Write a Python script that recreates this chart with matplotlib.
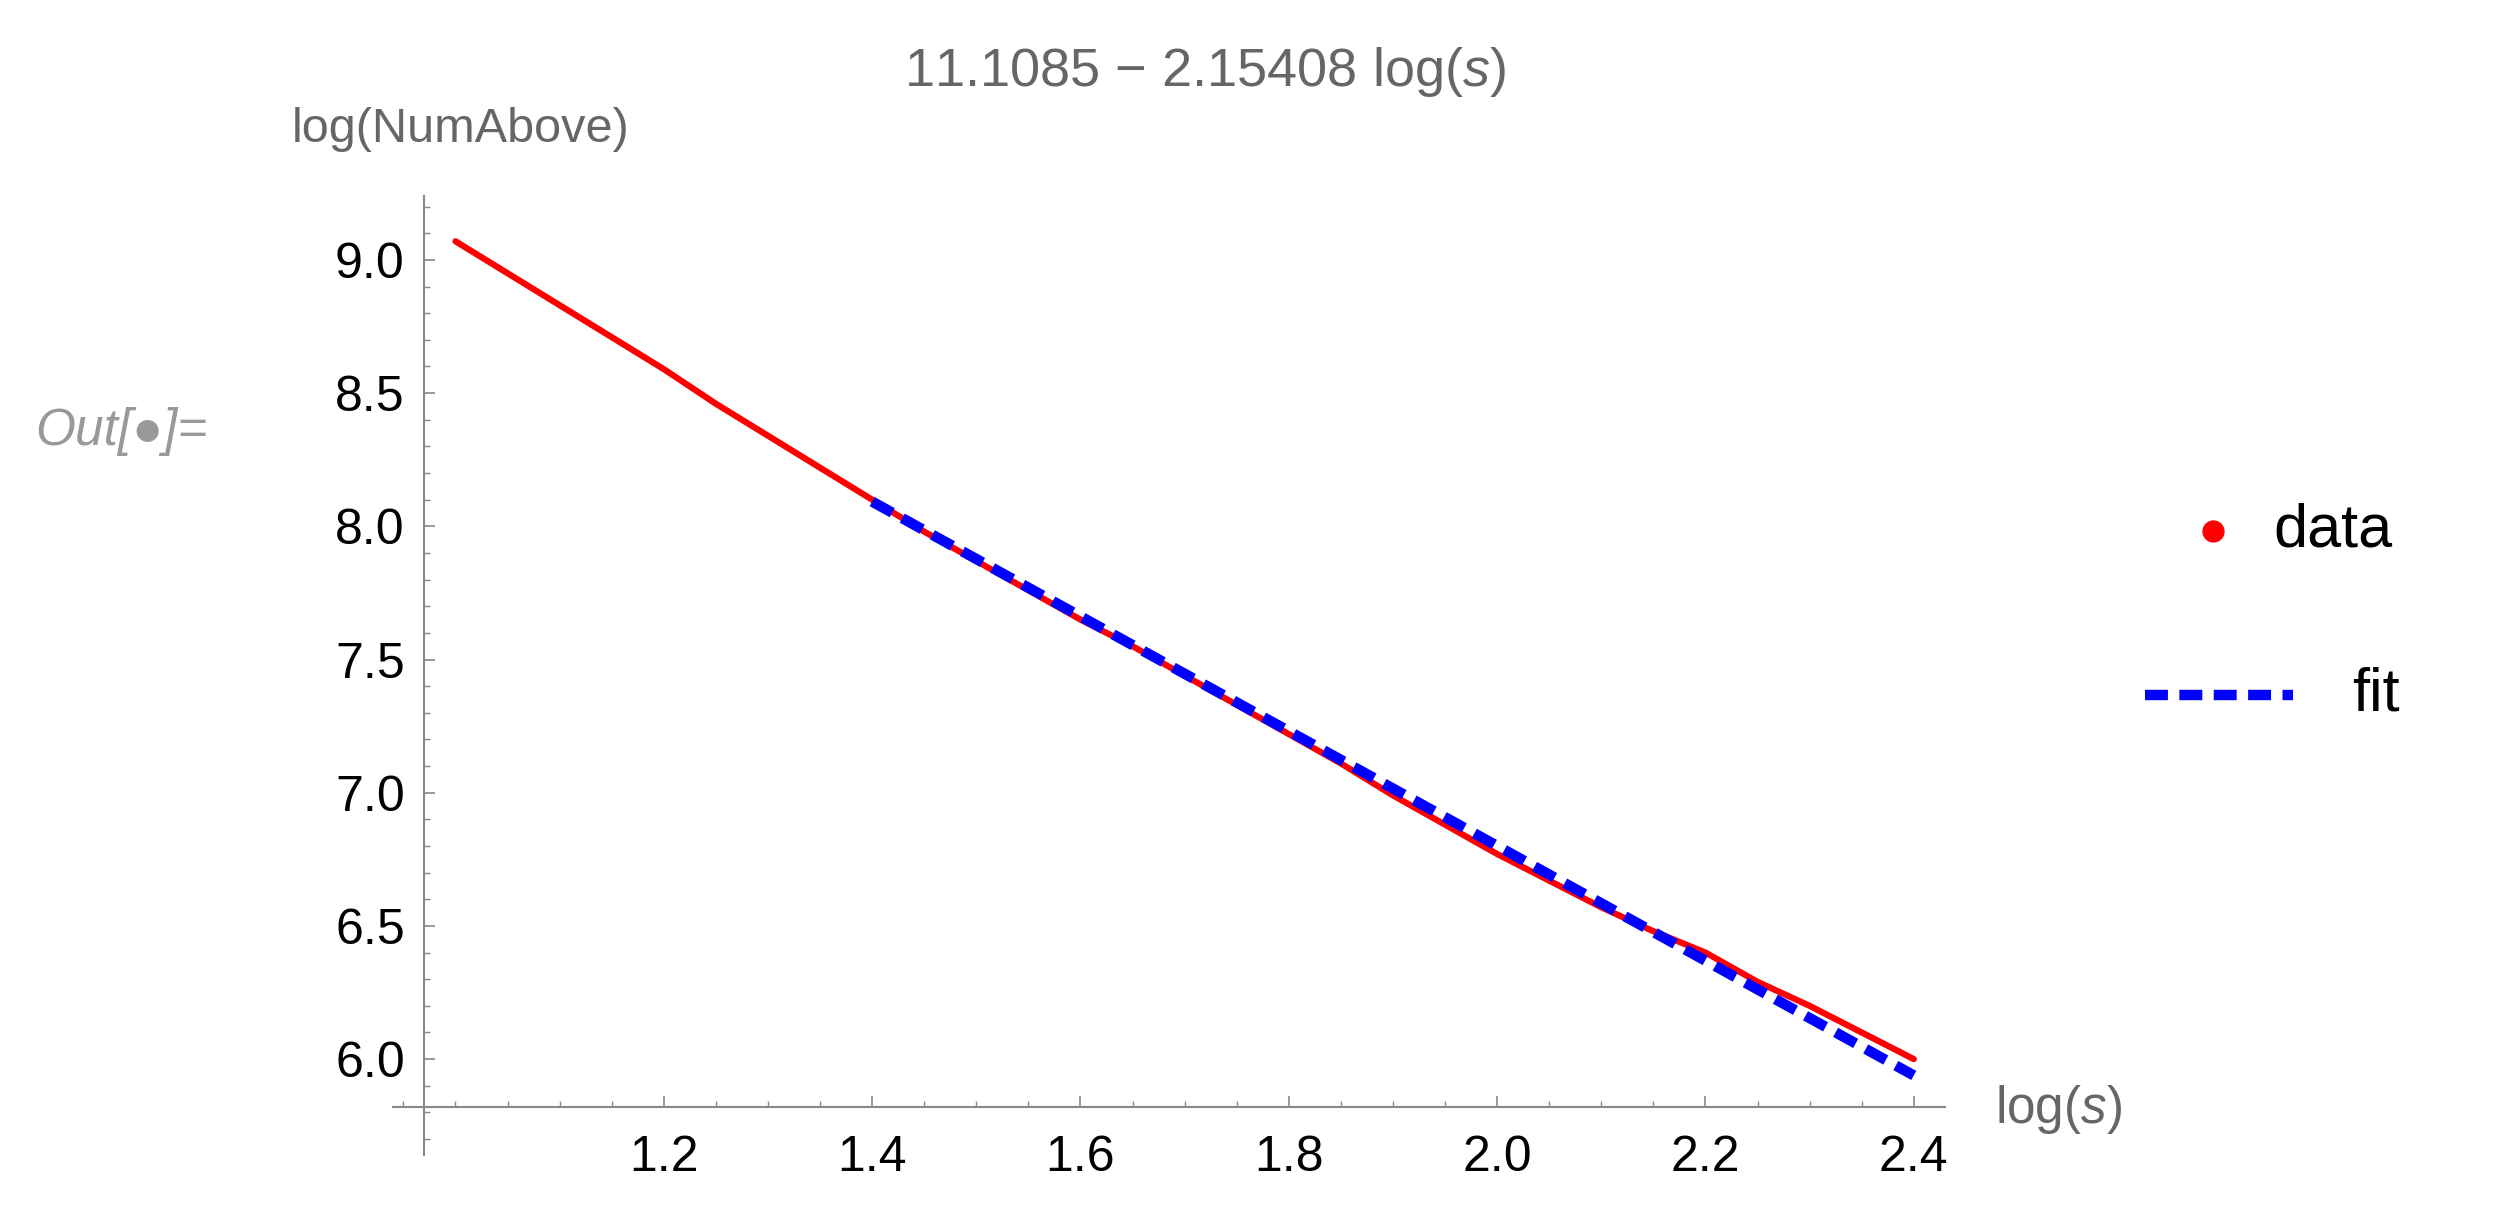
import matplotlib
matplotlib.use("Agg")
import matplotlib.pyplot as plt
import numpy as np
from matplotlib.ticker import MultipleLocator

plt.rcParams['font.family'] = ['Liberation Sans', 'DejaVu Sans']
plt.rcParams['mathtext.fontset'] = 'custom'
plt.rcParams['mathtext.it'] = 'Liberation Sans:italic'
plt.rcParams['mathtext.rm'] = 'Liberation Sans'

data_x = [1.00, 1.05, 1.10, 1.15, 1.20, 1.25, 1.30, 1.35, 1.40, 1.45, 1.50, 1.55, 1.60, 1.65,
          1.70, 1.75, 1.80, 1.85, 1.90, 1.95, 2.00, 2.05, 2.10, 2.15, 2.20, 2.25, 2.30, 2.35, 2.40]
data_y = [9.07, 8.95, 8.83, 8.71, 8.59, 8.46, 8.34, 8.22, 8.10, 7.98, 7.87, 7.76, 7.65, 7.55,
          7.44, 7.33, 7.22, 7.11, 6.99, 6.88, 6.77, 6.67, 6.57, 6.48, 6.40, 6.29, 6.20, 6.10, 6.00]
fit_a, fit_b = 11.1085, -2.15408
fit_range = [1.4, 2.4]
xticks = [1.2, 1.4, 1.6, 1.8, 2.0, 2.2, 2.4]
yticks = [6.0, 6.5, 7.0, 7.5, 8.0, 8.5, 9.0]

W, H = 2510, 1208
fig = plt.figure(figsize=(W/100, H/100), dpi=100)
x0, x1 = 0.94, 2.43
y0, y1 = 5.64, 9.24
ax = fig.add_axes([393/W, 1 - 1155/H, (1945-393)/W, (1155-196)/H])
ax.set_xlim(x0, x1); ax.set_ylim(y0, y1)

ax.plot(data_x, data_y, color='red', lw=4.5, solid_capstyle='round', zorder=3)
fx = np.array(fit_range)
ax.plot(fx, fit_a + fit_b*fx, color='blue', lw=7.5, dashes=(2.2, 1.1), zorder=4)

for s in ['top', 'right']:
    ax.spines[s].set_visible(False)
ax.spines['bottom'].set_position(('data', 5.82))
ax.spines['left'].set_position(('data', 0.97))
for s in ['bottom', 'left']:
    ax.spines[s].set_color('#888888'); ax.spines[s].set_linewidth(1.5)
ax.set_xticks(xticks); ax.set_yticks(yticks)
ax.set_xticklabels([f"{v:.1f}" for v in xticks])
ax.set_yticklabels([f"{v:.1f}" for v in yticks])
ax.xaxis.set_minor_locator(MultipleLocator(0.05))
ax.yaxis.set_minor_locator(MultipleLocator(0.1))
ax.tick_params(which='major', direction='in', length=8, width=1.2, color='#888888',
               labelsize=36, labelcolor='black')
ax.tick_params(which='minor', direction='in', length=4.5, width=1.0, color='#888888')
ax.tick_params(axis='x', pad=20)
ax.tick_params(axis='y', pad=14)

fig.text(1205/W, 1 - 72/H, r"11.1085 − 2.15408 log($s$)", ha='center', va='center',
         fontsize=39, color='#666666')
fig.text(461/W, 1 - 129/H, "log(NumAbove)", ha='center', va='center', fontsize=35, color='#666666')
fig.text(1995/W, 1 - 1109/H, r"log($s$)", ha='left', va='center', fontsize=37, color='#666666')
fig.text(35/W, 1 - 431/H, "Out[●]=", ha='left', va='center', fontsize=37, color='#999999',
         style='italic', family=['Liberation Sans', 'DejaVu Sans'])

# legend
fig.lines.append(plt.Line2D([2213/W], [1 - 531/H], marker='o', color='red', markersize=15,
                            transform=fig.transFigure, figure=fig))
fig.text(2273/W, 1 - 531/H, "data", ha='left', va='center', fontsize=44, color='black')
fig.lines.append(plt.Line2D([2145/W, 2293/W], [1 - 695/H, 1 - 695/H], color='blue', lw=7.5,
                            dashes=(2.2, 1.1), transform=fig.transFigure, figure=fig))
fig.text(2352/W, 1 - 695/H, "fit", ha='left', va='center', fontsize=44, color='black')

fig.savefig("out.png", dpi=100)
